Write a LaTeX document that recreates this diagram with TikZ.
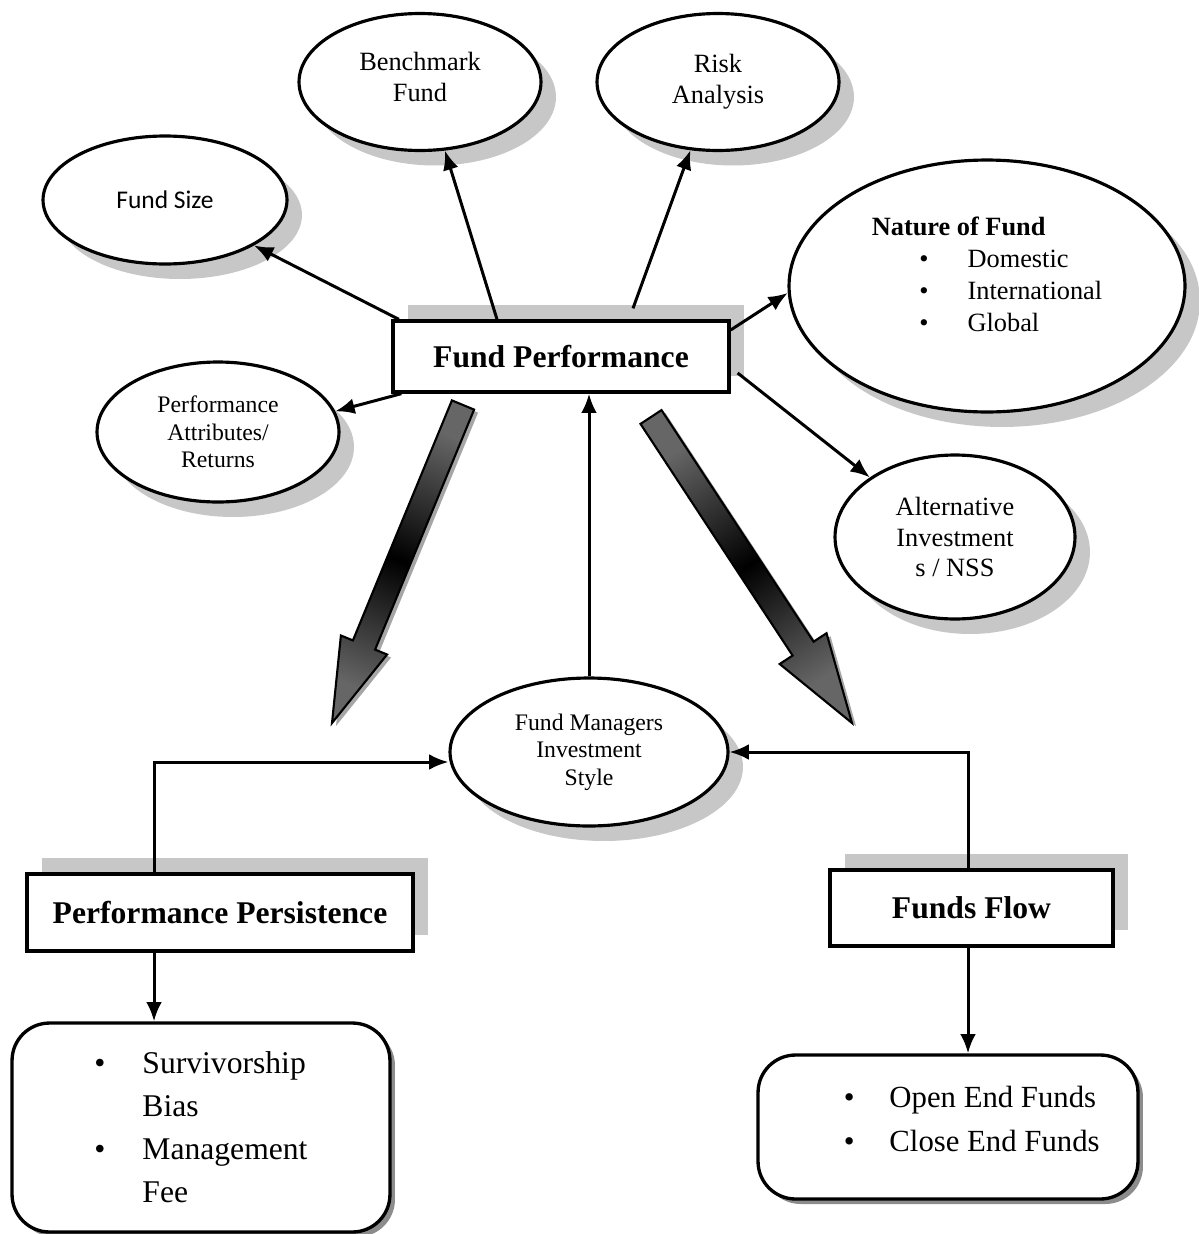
\documentclass[tikz,border=0pt]{standalone}
\usepackage{fontspec}
\setmainfont{Liberation Serif}
\newfontfamily\calibrifont{Carlito}
\usetikzlibrary{shapes.geometric,shadows,arrows.meta}
\newcommand{\bul}[1]{\makebox[#1][l]{\textbullet}}
\begin{document}
\begin{tikzpicture}[x=0.02cm,y=-0.02cm]
        \tikzstyle{bubble} = [ellipse, draw, line width=1.8pt, fill=white, align=center, inner sep=0pt,
                drop shadow={shadow xshift=0.3cm, shadow yshift=-0.3cm, fill=black!22, opacity=1}]
        \tikzstyle{headbox} = [rectangle, draw, line width=1.9pt, fill=white, align=center,
                font=\fontsize{18}{22}\selectfont\bfseries,
                drop shadow={shadow xshift=0.3cm, shadow yshift=0.32cm, fill=black!22, opacity=1}]
        \tikzstyle{listbox} = [rectangle, rounded corners=0.75cm, draw, line width=1.9pt, fill=white, align=left,
                drop shadow={shadow xshift=0.1cm, shadow yshift=-0.1cm, fill=black!45, opacity=1}]
        \tikzstyle{conn} = [line width=1.7pt, -{Latex[length=11pt,width=9pt]}]
        \tikzstyle{bigarrow} = [draw=black, line width=1.2pt, top color=black!60, bottom color=black!60, middle color=black]
        \useasboundingbox (0,0) rectangle (1198,1234);

        \fill[black!35, xshift=0.08cm, yshift=-0.06cm] (451.9,400.4) -- (474.1,409.6) -- (375.1,649.6) -- (387.1,654.5) -- (332,723) -- (340.9,635.5) -- (352.9,640.4) -- cycle;
        \shadedraw[bigarrow, shading angle=-22.4] (451.9,400.4) -- (474.1,409.6) -- (375.1,649.6) -- (387.1,654.5) -- (332,723) -- (340.9,635.5) -- (352.9,640.4) -- cycle;
        \fill[black!35, xshift=0.08cm, yshift=-0.06cm] (640.5,423.9) -- (661.5,410.1) -- (813.6,641.7) -- (826.5,633.2) -- (852,723) -- (779.7,664) -- (792.6,655.5) -- cycle;
        \shadedraw[bigarrow, shading angle=33.3] (640.5,423.9) -- (661.5,410.1) -- (813.6,641.7) -- (826.5,633.2) -- (852,723) -- (779.7,664) -- (792.6,655.5) -- cycle;

        \node[headbox, minimum width=6.72cm, minimum height=1.42cm](perf) at (561,356.5){Fund Performance};
        \node[bubble, minimum width=4.88cm, minimum height=2.56cm, font=\calibrifont\fontsize{14.5}{17.6}\selectfont](fsize) at (165,200){Fund Size};
        \node[bubble, minimum width=4.84cm, minimum height=2.74cm, font=\fontsize{15}{17.6}\selectfont](bench) at (420,82){Benchmark\\Fund\\[-12pt]\mbox{}};
        \node[bubble, minimum width=4.84cm, minimum height=2.74cm, font=\fontsize{15}{17.6}\selectfont](risk) at (718,82){Risk\\Analysis};
        \node[bubble, minimum width=7.92cm, minimum height=5.04cm, align=left, font=\fontsize{15}{18.2}\selectfont](nature) at (987,286){\textbf{Nature of Fund}\\
                \hspace*{27pt}\bul{27.5pt}Domestic\\ \hspace*{27pt}\bul{27.5pt}International\\ \hspace*{27pt}\bul{27.5pt}Global\\[-4.6pt]\mbox{}};
        \node[bubble, minimum width=4.84cm, minimum height=2.8cm, font=\fontsize{13.5}{15.6}\selectfont](attrib) at (218,432){Performance\\Attributes/\\Returns};
        \node[bubble, minimum width=4.8cm, minimum height=3.28cm, font=\fontsize{15}{17.6}\selectfont](altinv) at (955,537){Alternative\\Investment\\s / NSS};
        \node[bubble, minimum width=5.56cm, minimum height=2.96cm, font=\fontsize{13.5}{15.6}\selectfont](style) at (589,752){Fund Managers\\Investment\\Style};
        \node[headbox, minimum width=7.72cm, minimum height=1.54cm](persist) at (220,912.5){Performance Persistence};
        \node[headbox, minimum width=5.66cm, minimum height=1.52cm](flow) at (971.5,908){Funds Flow};
        \node[listbox, minimum width=7.56cm, minimum height=4.18cm, font=\fontsize{18}{24.5}\selectfont](survbox) at (201,1127.5){\bul{27.3pt}Survivorship\\
                \hspace*{27.3pt}Bias\\ \bul{27.3pt}Management\\ \hspace*{27.3pt}Fee};
        \node[listbox, minimum width=7.6cm, minimum height=2.88cm, font=\fontsize{17.5}{25}\selectfont](openbox) at (948,1127){\hspace*{27pt}\bul{26pt}Open End Funds\\
                \hspace*{27pt}\bul{26pt}Close End Funds\\[-15.7pt]\mbox{}};

        \path[conn] ([xshift=0.15cm]perf.north west) edge (fsize);
        \path[conn] ([xshift=-1.28cm]perf.north) edge (bench.-70);
        \path[conn] ([xshift=1.44cm, yshift=0.22cm]perf.north) edge (risk.-112);
        \path[conn] ([yshift=0.53cm]perf.east) edge (nature.182);
        \path[conn] ([xshift=0.14cm, yshift=-0.33cm]perf.east) edge (altinv.145);
        \path[conn] ([xshift=0.2cm]perf.south west) edge (attrib.10);
        \path[conn] (style.north) edge (style.north |- perf.south);
        \draw[conn] ([xshift=-1.32cm]persist.north) |- ([yshift=-0.2cm]style.west);
        \draw[conn] ([xshift=-0.07cm]flow.north) |- (style.east);
        \path[conn] ([xshift=-1.32cm]persist.south) edge ([xshift=-1.32cm]persist.south |- survbox.north);
        \path[conn] ([xshift=-0.07cm]flow.south) edge ([xshift=-0.07cm]flow.south |- openbox.north);
\end{tikzpicture}
\end{document}
